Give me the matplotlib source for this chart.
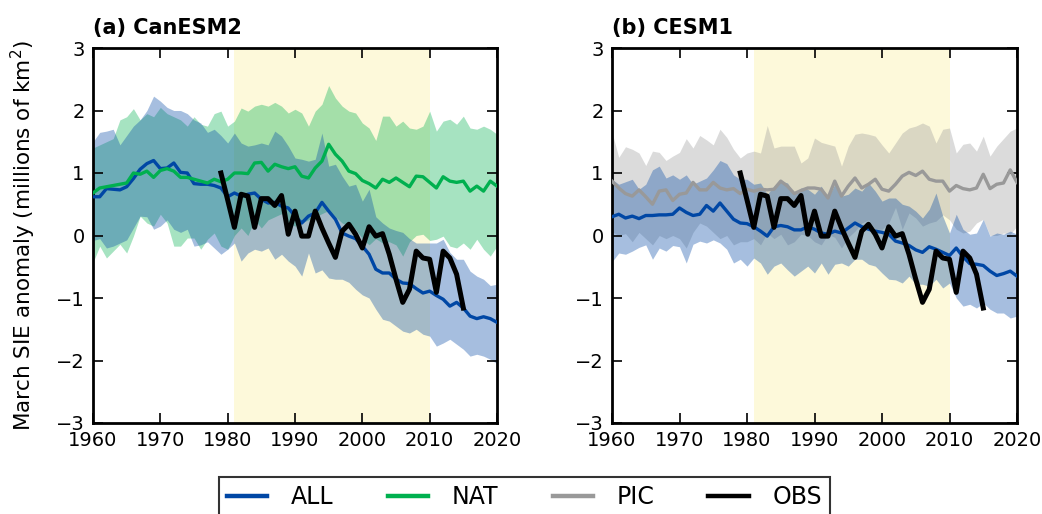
import numpy as np
import matplotlib
matplotlib.use("Agg")
import matplotlib.pyplot as plt
from matplotlib.lines import Line2D

plt.rcParams['font.family'] = ['DejaVu Sans']

years = list(range(1960, 2021))
obs_years = list(range(1979, 2016))

# ---------------- CanESM2 ----------------
can_all_mean = [0.62, 0.62, 0.75, 0.74, 0.73, 0.78, 0.91, 1.06, 1.15, 1.20,
                1.07, 1.08, 1.16, 1.01, 1.00, 0.83, 0.82, 0.82, 0.80, 0.76,
                0.62, 0.68, 0.63, 0.66, 0.68, 0.58, 0.52, 0.53, 0.47, 0.44,
                0.31, 0.20, 0.31, 0.36, 0.53, 0.39, 0.26, 0.04, -0.01, -0.05,
                -0.17, -0.30, -0.54, -0.60, -0.60, -0.70, -0.76, -0.77, -0.85, -0.92,
                -0.89, -0.96, -1.02, -1.13, -1.07, -1.16, -1.29, -1.33, -1.30, -1.33,
                -1.39]
can_all_hi = [1.50, 1.65, 1.67, 1.70, 1.45, 1.60, 1.75, 1.85, 2.00, 2.23,
              2.15, 2.05, 2.00, 2.00, 1.95, 1.85, 1.80, 1.65, 1.70, 1.60,
              1.48, 1.64, 1.48, 1.43, 1.45, 1.48, 1.45, 1.67, 1.59, 1.43,
              1.24, 1.22, 1.19, 1.22, 1.64, 1.11, 1.14, 0.95, 0.79, 0.82,
              0.55, 0.74, 0.30, 0.20, 0.12, 0.08, 0.05, -0.05, -0.12, -0.12,
              -0.12, -0.12, -0.06, -0.27, -0.38, -0.38, -0.57, -0.65, -0.70, -0.80,
              -0.78]
can_all_lo = [-0.08, -0.05, -0.20, -0.17, -0.12, -0.07, 0.12, 0.31, 0.30, 0.10,
              0.15, 0.25, 0.10, 0.05, 0.10, -0.17, -0.15, -0.10, -0.20, -0.30,
              -0.22, -0.12, -0.41, -0.28, -0.22, -0.25, -0.20, -0.38, -0.30, -0.41,
              -0.49, -0.65, -0.28, -0.60, -0.55, -0.68, -0.70, -0.70, -0.75, -0.86,
              -0.95, -1.00, -1.18, -1.34, -1.37, -1.45, -1.53, -1.56, -1.50, -1.58,
              -1.61, -1.77, -1.72, -1.66, -1.74, -1.82, -1.93, -1.90, -1.93, -1.98,
              -2.05]
can_nat_mean = [0.68, 0.76, 0.78, 0.80, 0.82, 0.84, 1.00, 0.98, 1.03, 0.93,
                1.04, 1.07, 1.03, 0.93, 0.93, 0.90, 0.87, 0.84, 0.90, 0.86,
                0.90, 1.00, 1.00, 0.99, 1.16, 1.17, 1.03, 1.14, 1.10, 1.07,
                1.10, 0.95, 0.92, 1.08, 1.19, 1.46, 1.30, 1.19, 1.03, 0.99,
                0.88, 0.83, 0.76, 0.90, 0.85, 0.92, 0.85, 0.78, 0.95, 0.94,
                0.85, 0.76, 0.94, 0.87, 0.85, 0.87, 0.71, 0.79, 0.71, 0.87,
                0.79]
can_nat_hi = [1.40, 1.45, 1.50, 1.55, 1.85, 1.90, 2.03, 1.85, 1.95, 1.90,
              2.05, 1.95, 1.90, 1.85, 1.75, 1.90, 1.78, 1.75, 1.95, 1.99,
              1.75, 1.83, 2.04, 1.99, 2.07, 2.10, 2.07, 2.13, 2.07, 1.96,
              2.02, 1.96, 1.75, 1.99, 2.10, 2.40, 2.20, 2.07, 1.99, 1.96,
              1.80, 1.72, 1.52, 1.91, 1.91, 1.75, 1.83, 1.72, 1.70, 1.75,
              1.99, 1.67, 1.83, 1.86, 1.78, 1.91, 1.72, 1.70, 1.75, 1.70,
              1.62]
can_nat_lo = [-0.43, -0.17, -0.36, -0.25, -0.14, -0.28, -0.01, 0.31, 0.20, 0.15,
              0.34, 0.20, -0.17, -0.17, -0.04, -0.04, -0.22, -0.06, 0.04, -0.17,
              -0.22, 0.00, 0.12, 0.00, 0.25, 0.12, 0.25, 0.30, 0.35, 0.20,
              0.15, 0.20, 0.25, 0.30, 0.35, 0.40, 0.30, 0.20, 0.15, 0.10,
              -0.05, -0.15, -0.05, -0.12, -0.10, -0.15, -0.33, -0.10, 0.00, 0.02,
              -0.08, -0.06, -0.01, -0.17, -0.20, -0.12, -0.22, -0.06, -0.22, -0.33,
              -0.17]

# ---------------- CESM1 ----------------
cesm_all_mean = [0.30, 0.34, 0.28, 0.31, 0.27, 0.32, 0.32, 0.33, 0.33, 0.34,
                 0.44, 0.37, 0.32, 0.34, 0.48, 0.39, 0.52, 0.39, 0.26, 0.20,
                 0.19, 0.14, 0.07, -0.01, 0.14, 0.16, 0.14, 0.09, 0.09, 0.14,
                 0.10, 0.04, 0.02, 0.07, 0.04, 0.12, 0.20, 0.14, 0.10, 0.07,
                 0.05, 0.02, -0.09, -0.12, -0.16, -0.23, -0.27, -0.18, -0.22, -0.27,
                 -0.32, -0.20, -0.34, -0.45, -0.46, -0.48, -0.57, -0.64, -0.61, -0.57,
                 -0.65]
cesm_all_hi = [0.90, 0.82, 0.86, 0.90, 0.74, 0.82, 1.05, 1.11, 0.92, 0.97,
               0.90, 0.97, 0.82, 0.87, 0.92, 1.05, 1.20, 1.15, 0.97, 0.90,
               0.90, 0.82, 0.84, 0.66, 0.79, 0.87, 0.84, 0.66, 0.76, 0.74,
               0.66, 0.79, 0.60, 0.82, 0.63, 0.66, 0.76, 0.71, 0.84, 0.71,
               0.55, 0.60, 0.60, 0.50, 0.47, 0.39, 0.28, 0.42, 0.68, 0.31,
               0.04, 0.34, 0.10, 0.02, 0.04, 0.26, -0.01, 0.04, 0.02, 0.07,
               0.02]
cesm_all_lo = [-0.42, -0.28, -0.30, -0.25, -0.19, -0.15, -0.38, -0.20, -0.25, -0.16,
               -0.18, -0.44, -0.14, -0.09, -0.12, -0.07, -0.12, -0.22, -0.44, -0.38,
               -0.49, -0.36, -0.44, -0.62, -0.49, -0.44, -0.55, -0.65, -0.57, -0.49,
               -0.60, -0.44, -0.62, -0.46, -0.44, -0.49, -0.38, -0.38, -0.46, -0.49,
               -0.60, -0.70, -0.71, -0.76, -0.65, -0.78, -0.78, -0.81, -0.70, -0.84,
               -0.76, -1.00, -1.13, -1.10, -1.16, -1.08, -1.18, -1.24, -1.24, -1.32,
               -1.29]
cesm_pic_mean = [0.87, 0.76, 0.67, 0.63, 0.73, 0.62, 0.50, 0.71, 0.73, 0.56,
                 0.66, 0.68, 0.85, 0.73, 0.73, 0.85, 0.76, 0.73, 0.75, 0.67,
                 0.74, 0.71, 0.74, 0.73, 0.74, 0.87, 0.79, 0.67, 0.72, 0.76,
                 0.76, 0.74, 0.60, 0.87, 0.63, 0.79, 0.92, 0.76, 0.82, 0.90,
                 0.74, 0.71, 0.82, 0.95, 1.01, 0.96, 1.03, 0.90, 0.87, 0.87,
                 0.71, 0.80, 0.75, 0.73, 0.76, 0.98, 0.75, 0.82, 0.84, 1.05,
                 0.85]
cesm_pic_hi = [1.65, 1.25, 1.42, 1.38, 1.32, 1.12, 1.35, 1.33, 1.20, 1.27,
               1.33, 1.55, 1.40, 1.60, 1.53, 1.45, 1.70, 1.57, 1.38, 1.24,
               1.32, 1.35, 1.32, 1.76, 1.40, 1.43, 1.43, 1.43, 1.16, 1.24,
               1.56, 1.49, 1.46, 1.43, 1.11, 1.43, 1.62, 1.64, 1.62, 1.59,
               1.45, 1.32, 1.48, 1.64, 1.72, 1.75, 1.80, 1.75, 1.48, 1.70,
               1.72, 1.32, 1.46, 1.48, 1.35, 1.59, 1.27, 1.43, 1.55, 1.67,
               1.72]
cesm_pic_lo = [0.06, 0.00, 0.03, -0.10, 0.05, -0.05, -0.15, 0.00, -0.05, 0.00,
               -0.05, -0.20, 0.05, 0.20, 0.15, 0.05, -0.05, 0.00, -0.15, -0.10,
               -0.10, -0.05, -0.15, 0.04, -0.05, 0.02, -0.15, -0.10, 0.02, 0.00,
               -0.10, -0.15, 0.02, -0.03, -0.20, -0.03, 0.07, 0.20, 0.25, 0.10,
               0.10, 0.20, 0.45, 0.10, 0.36, 0.28, 0.15, 0.20, 0.23, 0.33,
               0.25, 0.10, 0.04, 0.07, 0.20, 0.26, 0.00, 0.00, 0.04, 0.02,
               0.15]

# ---------------- Observations (1979-2015) ----------------
obs = [1.00, 0.57, 0.13, 0.66, 0.63, 0.13, 0.59, 0.59, 0.48, 0.64,
       0.02, 0.39, -0.01, -0.01, 0.39, 0.12, -0.12, -0.35, 0.07, 0.18,
       0.02, -0.20, 0.14, -0.01, 0.03, -0.30, -0.70, -1.07, -0.86, -0.25,
       -0.36, -0.38, -0.91, -0.25, -0.36, -0.62, -1.16]

panel_titles = ["(a) CanESM2", "(b) CESM1"]
legend_labels = ["ALL", "NAT", "PIC", "OBS"]
shade_period = (1981, 2010)
xticks = [1960, 1970, 1980, 1990, 2000, 2010, 2020]
yticks = [-3, -2, -1, 0, 1, 2, 3]

C_ALL = '#0047a5'
C_NAT = '#00b04f'
C_PIC = '#999999'
C_OBS = '#000000'
C_SHADE = '#fdf9da'
ALPHA = 0.35

W, H = 1042, 514
fig = plt.figure(figsize=(W / 100, H / 100), dpi=100)

ax1 = fig.add_axes([93 / W, 1 - 423 / H, 404 / W, 375 / H])
ax2 = fig.add_axes([612 / W, 1 - 423 / H, 405 / W, 375 / H])

def style(ax, title):
    ax.set_xlim(1960, 2020)
    ax.set_ylim(-3, 3)
    ax.set_xticks(xticks)
    ax.set_yticks(yticks)
    ax.tick_params(direction='in', length=7, width=1.2, top=True, right=True,
                   labelsize=14)
    ax.tick_params(axis='x', pad=6)
    ax.tick_params(axis='y', pad=6)
    for s in ax.spines.values():
        s.set_linewidth(2)
    ax.axvspan(shade_period[0], shade_period[1], color=C_SHADE, zorder=0, lw=0)
    ax.text(0.0, 1.027, title, transform=ax.transAxes, fontsize=15,
            fontweight='bold', ha='left', va='bottom')

# Panel (a)
style(ax1, panel_titles[0])
ax1.fill_between(years, can_nat_lo, can_nat_hi, color=C_NAT, alpha=ALPHA, lw=0, zorder=1)
ax1.fill_between(years, can_all_lo, can_all_hi, color=C_ALL, alpha=ALPHA, lw=0, zorder=1)
ax1.plot(years, can_all_mean, color=C_ALL, lw=2.4, zorder=3)
ax1.plot(years, can_nat_mean, color=C_NAT, lw=2.4, zorder=3)
ax1.plot(obs_years, obs, color=C_OBS, lw=3.6, zorder=4)
ax1.set_ylabel("March SIE anomaly (millions of km$^2$)", fontsize=15.5, labelpad=13)

# Panel (b)
style(ax2, panel_titles[1])
ax2.fill_between(years, cesm_pic_lo, cesm_pic_hi, color=C_PIC, alpha=ALPHA, lw=0, zorder=1)
ax2.fill_between(years, cesm_all_lo, cesm_all_hi, color=C_ALL, alpha=ALPHA, lw=0, zorder=1)
ax2.plot(years, cesm_pic_mean, color=C_PIC, lw=2.4, zorder=3)
ax2.plot(years, cesm_all_mean, color=C_ALL, lw=2.4, zorder=3)
ax2.plot(obs_years, obs, color=C_OBS, lw=3.6, zorder=4)

handles = [Line2D([], [], color=c, lw=3.2) for c in (C_ALL, C_NAT, C_PIC, C_OBS)]
leg = fig.legend(handles, legend_labels, loc='upper center', ncol=4,
                 bbox_to_anchor=(524.5 / W, 1 - 477 / H), fontsize=17,
                 frameon=True, fancybox=False, edgecolor='black',
                 handlelength=1.7, handletextpad=1.0, columnspacing=2.3,
                 borderpad=0.35, borderaxespad=0)
leg.get_frame().set_linewidth(1.5)

fig.savefig("out.png", dpi=100)
